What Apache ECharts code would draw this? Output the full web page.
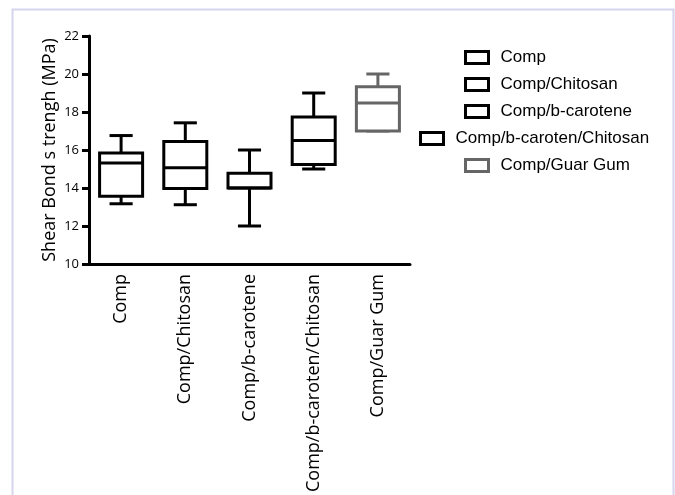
<!DOCTYPE html>
<html>
<head>
<meta charset="utf-8">
<script src="https://cdn.jsdelivr.net/npm/echarts@6/dist/echarts.min.js"></script>
<style>
  html, body { margin: 0; padding: 0; background: #fff; }
  #chart { width: 675px; height: 495px; }
</style>
</head>
<body>
<div id="chart"></div>
<script>
var groups = ['Comp', 'Comp/Chitosan', 'Comp/b-carotene', 'Comp/b-caroten/Chitosan', 'Comp/Guar Gum'];
// [min, q1, median, q3, max]
var boxComp = [13.17, 13.57, 15.31, 15.84, 16.76];
var boxChitosan = [13.12, 13.98, 15.07, 16.45, 17.43];
var boxCarotene = [12.0, 14.0, 14.0, 14.77, 16.0];
var boxCarotenChitosan = [15.0, 15.24, 16.5, 17.74, 19.0];
var boxGuar = [17.0, 17.0, 18.48, 19.33, 20.0];
var boxColors = ['#000', '#000', '#000', '#000', '#666'];
var yTicks = [10, 12, 14, 16, 18, 20, 22];

var boxes = [boxComp, boxChitosan, boxCarotene, boxCarotenChitosan, boxGuar];

var chart = echarts.init(document.getElementById('chart'));

function drawBox(params, api) {
  var x = api.value(0);
  var band = api.size([1, 0])[0];
  var half = band * 0.335;
  var cap = band * 0.18;
  var pMin = api.coord([x, api.value(1)]);
  var pQ1 = api.coord([x, api.value(2)]);
  var pMed = api.coord([x, api.value(3)]);
  var pQ3 = api.coord([x, api.value(4)]);
  var pMax = api.coord([x, api.value(5)]);
  var col = boxColors[params.seriesIndex];
  var st = { stroke: col, lineWidth: 3, fill: null };
  var cx = pMed[0];
  return {
    type: 'group',
    children: [
      { type: 'line', shape: { x1: cx, y1: pMax[1], x2: cx, y2: pQ3[1] }, style: st },
      { type: 'line', shape: { x1: cx, y1: pQ1[1], x2: cx, y2: pMin[1] }, style: st },
      { type: 'line', shape: { x1: cx - cap, y1: pMax[1], x2: cx + cap, y2: pMax[1] }, style: st },
      { type: 'line', shape: { x1: cx - cap, y1: pMin[1], x2: cx + cap, y2: pMin[1] }, style: st },
      { type: 'rect', shape: { x: cx - half, y: pQ3[1], width: half * 2, height: pQ1[1] - pQ3[1] }, style: { stroke: col, lineWidth: 3, fill: '#fff' } },
      { type: 'line', shape: { x1: cx - half, y1: pMed[1], x2: cx + half, y2: pMed[1] }, style: st }
    ]
  };
}

var series = groups.map(function (g, i) {
  return {
    name: g,
    type: 'custom',
    renderItem: drawBox,
    encode: { x: 0, y: [1, 2, 3, 4, 5] },
    itemStyle: { color: '#fff', borderColor: boxColors[i], borderWidth: 3 },
    data: [[i].concat(boxes[i])]
  };
});

function legendItem(i) {
  return { name: groups[i], itemStyle: { color: '#fff', borderColor: boxColors[i], borderWidth: 3 } };
}
var legendBase = {
  orient: 'vertical',
  icon: 'rect',
  itemWidth: 23,
  itemHeight: 12,
  itemGap: 10,
  selectedMode: false,
  textStyle: { fontFamily: 'Liberation Sans', fontSize: 17, color: '#000', padding: [0, 0, 0, 7] }
};

var option = {
  backgroundColor: '#fff',
  animation: false,
  graphic: [{
    type: 'rect',
    shape: { x: 12.5, y: 9.5, width: 661, height: 520 },
    style: { fill: null, stroke: '#d6d4ee', lineWidth: 2 },
    silent: true
  }],
  legend: [
    Object.assign({}, legendBase, { left: 459, top: 44, data: [legendItem(0), legendItem(1), legendItem(2)] }),
    Object.assign({}, legendBase, { left: 414, top: 125, data: [legendItem(3)] }),
    Object.assign({}, legendBase, { left: 459, top: 152, data: [legendItem(4)] })
  ],
  grid: { left: 89, right: 265, top: 36, bottom: 227, containLabel: false },
  xAxis: {
    type: 'category',
    data: groups,
    axisLine: { lineStyle: { color: '#000', width: 3 } },
    axisTick: { alignWithLabel: true, length: 7, lineStyle: { color: '#000', width: 3 } },
    axisLabel: { rotate: 90, margin: 10, fontFamily: 'Open Sans', fontSize: 18, color: '#000', interval: 0 },
    splitLine: { show: false }
  },
  yAxis: {
    type: 'value',
    min: yTicks[0],
    max: yTicks[yTicks.length - 1],
    interval: 2,
    name: 'Shear Bond s trengh (MPa)',
    nameLocation: 'middle',
    nameGap: 30,
    nameTextStyle: { fontFamily: 'Open Sans', fontSize: 18, color: '#000' },
    axisLine: { show: true, lineStyle: { color: '#000', width: 3 } },
    axisTick: { show: true, length: 7, lineStyle: { color: '#000', width: 3 } },
    axisLabel: { margin: 10, fontFamily: 'Open Sans', fontSize: 13, color: '#000' },
    splitLine: { show: false }
  },
  series: series
};

chart.setOption(option);
</script>
</body>
</html>
